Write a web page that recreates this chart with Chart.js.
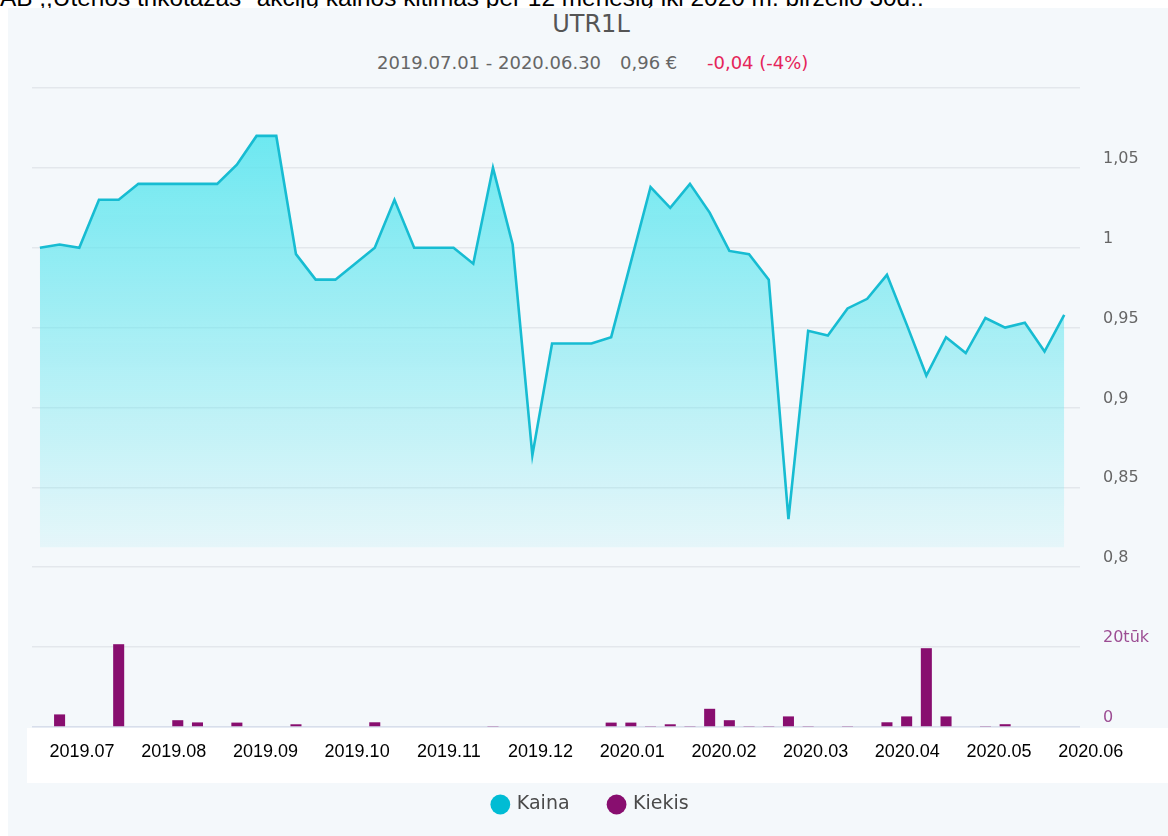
<!DOCTYPE html>
<html><head><meta charset="utf-8">
<script src="https://cdn.jsdelivr.net/npm/chart.js@4.4.0/dist/chart.umd.min.js"></script>
<style>
html,body{margin:0;padding:0;background:#fff;}
body{width:1168px;height:836px;position:relative;overflow:hidden;}
#cap{position:absolute;left:0;top:-14px;font:24.4px/24px Arial,'Liberation Sans',sans-serif;color:#000;white-space:nowrap;}
#panel{position:absolute;left:8px;top:8px;width:1160px;height:828px;background:#f4f8fb;}
#strip{position:absolute;left:27px;top:728px;width:1141px;height:55px;background:#fff;}
#sym{position:absolute;left:0;width:1182px;top:10px;text-align:center;font:24px/28px 'DejaVu Sans',sans-serif;color:#555;}
.sub{position:absolute;top:52px;font:18px/21px 'DejaVu Sans',sans-serif;color:#666;white-space:nowrap;}
canvas{position:absolute;left:0;top:0;}
</style></head>
<body>
<div id="cap">AB ,,Utenos trikotažas" akcijų kainos kitimas per 12 mėnesių iki 2020 m. birželio 30d.:</div>
<div id="panel"></div>
<div id="strip"></div>
<div id="sym">UTR1L</div>
<div class="sub" style="left:377px">2019.07.01 - 2020.06.30</div>
<div class="sub" style="left:620px">0,96 €</div>
<div class="sub" style="left:707px;color:#e5245a">-0,04 (-4%)</div>
<canvas id="c" width="1168" height="836"></canvas>
<script>
const weeks = ['2019-07-01','2019-07-08','2019-07-15','2019-07-22','2019-07-29','2019-08-05','2019-08-12','2019-08-19','2019-08-26',
'2019-09-02','2019-09-09','2019-09-16','2019-09-23','2019-09-30','2019-10-07','2019-10-14','2019-10-21','2019-10-28',
'2019-11-04','2019-11-11','2019-11-18','2019-11-25','2019-12-02','2019-12-09','2019-12-16','2019-12-23','2019-12-30',
'2020-01-06','2020-01-13','2020-01-20','2020-01-27','2020-02-03','2020-02-10','2020-02-17','2020-02-24',
'2020-03-02','2020-03-09','2020-03-16','2020-03-23','2020-03-30','2020-04-06','2020-04-13','2020-04-20','2020-04-27',
'2020-05-04','2020-05-11','2020-05-18','2020-05-25','2020-06-01','2020-06-08','2020-06-15','2020-06-22','2020-06-29'];
const price = [1.000,1.002,1.000,1.030,1.030,1.040,1.040,1.040,1.040,1.040,1.052,1.070,1.070,0.996,0.980,0.980,0.990,1.000,
1.030,1.000,1.000,1.000,0.990,1.050,1.002,0.870,0.940,0.940,0.940,0.944,0.991,1.038,1.025,1.040,1.022,0.998,0.996,0.980,
0.830,0.948,0.945,0.962,0.968,0.983,0.952,0.920,0.944,0.934,0.956,0.950,0.953,0.935,0.958];
const volume = [0,3150,0,0,20700,0,0,1700,1150,0,1100,0,0,680,0,0,0,1180,0,0,0,0,0,250,0,0,0,0,0,1100,1100,250,680,250,
4550,1700,250,250,2650,250,0,250,0,1180,2650,19700,2650,0,250,700,0,0,0];
const monthLabels = ['2019.07','2019.08','2019.09','2019.10','2019.11','2019.12','2020.01','2020.02','2020.03','2020.04','2020.05','2020.06'];
const priceTicks = [0.8,0.85,0.9,0.95,1,1.05,1.1];
const priceTickLabels = ['0,8','0,85','0,9','0,95','1','1,05',''];
const volumeTicks = [0,20000];
const volumeTickLabels = ['0','20tūk'];
const seriesNames = ['Kaina','Kiekis'];
const seriesColors = ['#00bcd4','#880e6f'];

const priceData = weeks.map((w,i)=>({x:i,y:price[i]}));
const volumeData = weeks.map((w,i)=>({x:i,y:volume[i]}));

function fillGradient(ctx){
  const chart = ctx.chart, area = chart.chartArea;
  if(!area) return 'rgba(95,230,239,0.5)';
  const yb = chart.scales.y.getPixelForValue(0.8);
  const g = chart.ctx.createLinearGradient(0, area.top, 0, yb);
  g.addColorStop(0,'rgba(95,230,239,1)');
  g.addColorStop(1,'rgba(95,230,239,0.06)');
  return g;
}

const legendShift = {id:'legendShift', afterLayout(chart){ const l = chart.legend; if(l){ l.top -= 12; l.bottom -= 12; } }};

new Chart(document.getElementById('c'), {
  type:'line',
  plugins:[legendShift],
  data:{datasets:[
    {type:'line',label:seriesNames[0],data:priceData,xAxisID:'x',yAxisID:'y',borderColor:'#17bcd2',borderWidth:2.6,
     pointRadius:0,tension:0,fill:{value:0.8125},backgroundColor:fillGradient,order:0},
    {type:'bar',label:seriesNames[1],data:volumeData,xAxisID:'x',yAxisID:'y2',backgroundColor:seriesColors[1],
     barPercentage:0.56,categoryPercentage:1,order:1,clip:false}
  ]},
  options:{
    responsive:false,animation:false,devicePixelRatio:1,
    layout:{padding:{left:32,right:18,top:88,bottom:0}},
    plugins:{
      tooltip:{enabled:false},
      legend:{position:'bottom',labels:{usePointStyle:true,boxWidth:14,boxHeight:14,padding:40,color:'#4a4a4a',
        font:{family:'DejaVu Sans',size:19},
        generateLabels:(chart)=>chart.data.datasets.map((ds,i)=>({text:ds.label,fillStyle:seriesColors[i],strokeStyle:seriesColors[i],
          lineWidth:0,pointStyle:'circle',hidden:false,datasetIndex:i,fontColor:'#4a4a4a'}))}}
    },
    scales:{
      x:{type:'linear',min:-0.4,max:52.8,display:false,offset:false,grid:{offset:false}},
      x2:{type:'linear',position:'bottom',min:-0.5453,max:10.883,offset:false,grid:{display:false,offset:false},border:{display:false},
        afterBuildTicks:s=>{s.ticks=monthLabels.map((m,i)=>({value:i}));},
        afterFit:s=>{s.height=40;},
        ticks:{autoSkip:false,maxRotation:0,minRotation:0,padding:6,color:'#000',font:{family:'Arial',size:18},
          callback:(v)=>monthLabels[v]}},
      y:{type:'linear',position:'right',stack:'s',stackWeight:559,weight:0,min:0.75,max:1.1,
        afterBuildTicks:s=>{s.ticks=priceTicks.map(v=>({value:v}));},
        afterFit:s=>{s.width=70;},
        grid:{color:'#e3e7ec',lineWidth:1.5,drawTicks:false},border:{display:false},
        ticks:{padding:23,labelOffset:-9,color:'#666',font:{family:'DejaVu Sans',size:16},callback:(v,i)=>priceTickLabels[i]}},
      y2:{type:'linear',position:'right',stack:'s',stackWeight:80,weight:1,min:0,max:20000,
        afterBuildTicks:s=>{s.ticks=volumeTicks.map(v=>({value:v}));},
        afterFit:s=>{s.width=70;},
        grid:{color:(c)=>c.index===0?'#d8deeb':'#e3e7ec',lineWidth:1.5,drawTicks:false},border:{display:false},
        ticks:{padding:23,labelOffset:-9,color:'#9c4d93',font:{family:'DejaVu Sans',size:16},callback:(v,i)=>volumeTickLabels[i]}}
    }
  }
});
</script>
</body></html>
